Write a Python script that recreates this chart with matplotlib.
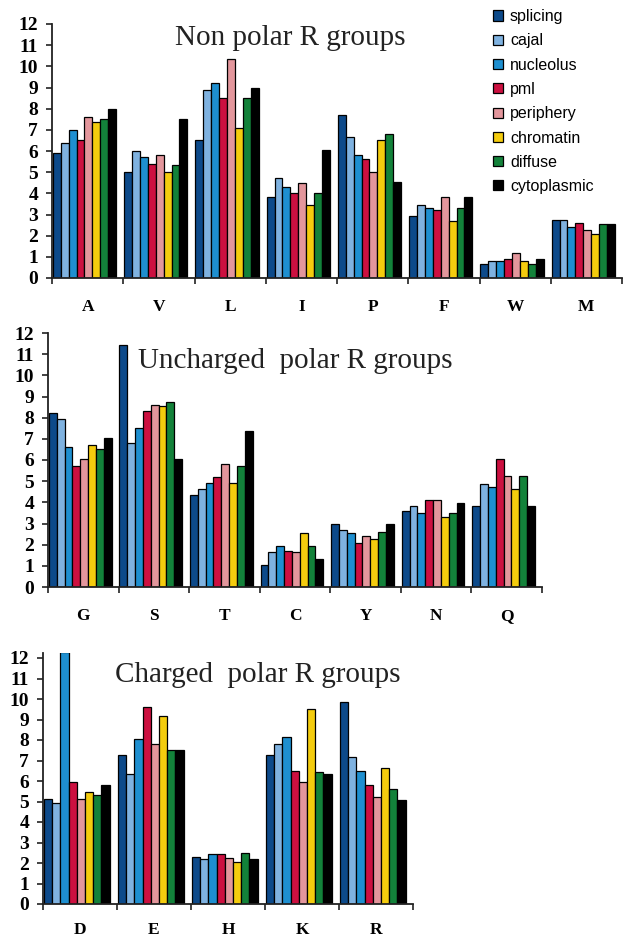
import matplotlib
matplotlib.use("Agg")
import matplotlib.pyplot as plt
import numpy as np

# ---------------- data ----------------
series = ["splicing", "cajal", "nucleolus", "pml", "periphery",
          "chromatin", "diffuse", "cytoplasmic"]
colors = ["#0d4a8a", "#7fb2e0", "#1e8fd0", "#cc1040", "#e3969c",
          "#f4cc0e", "#13823a", "#000000"]

nonpolar_cats = ["A", "V", "L", "I", "P", "F", "W", "M"]
nonpolar_vals = [
    [5.9, 6.4, 7.0, 6.5, 7.6, 7.35, 7.5, 8.0],    # A
    [5.0, 6.0, 5.7, 5.4, 5.8, 5.0, 5.35, 7.5],    # V
    [6.5, 8.9, 9.2, 8.5, 10.35, 7.1, 8.5, 9.0],   # L
    [3.83, 4.72, 4.3, 4.0, 4.5, 3.43, 4.0, 6.03], # I
    [7.68, 6.66, 5.8, 5.6, 5.0, 6.5, 6.8, 4.53],  # P
    [2.91, 3.43, 3.32, 3.23, 3.83, 2.7, 3.3, 3.83],  # F
    [0.68, 0.79, 0.79, 0.9, 1.2, 0.79, 0.68, 0.91],  # W
    [2.72, 2.72, 2.41, 2.61, 2.25, 2.09, 2.54, 2.54],  # M
]

uncharged_cats = ["G", "S", "T", "C", "Y", "N", "Q"]
uncharged_vals = [
    [8.21, 7.93, 6.63, 5.72, 6.03, 6.71, 6.52, 7.03],  # G
    [11.42, 6.79, 7.53, 8.33, 8.61, 8.53, 8.72, 6.03],  # S
    [4.34, 4.61, 4.9, 5.21, 5.8, 4.9, 5.72, 7.35],  # T
    [1.03, 1.63, 1.93, 1.69, 1.63, 2.53, 1.93, 1.31],  # C
    [3.0, 2.69, 2.53, 2.09, 2.42, 2.29, 2.61, 3.0],  # Y
    [3.6, 3.82, 3.48, 4.11, 4.11, 3.29, 3.51, 3.98],  # N
    [3.82, 4.87, 4.74, 6.03, 5.24, 4.61, 5.24, 3.82],  # Q
]

charged_cats = ["D", "E", "H", "K", "R"]
charged_vals = [
    [5.11, 4.92, 12.3, 5.93, 5.11, 5.44, 5.33, 5.81],  # D
    [7.25, 6.34, 8.05, 9.61, 7.8, 9.19, 7.49, 7.52],   # E
    [2.31, 2.21, 2.43, 2.43, 2.23, 2.05, 2.51, 2.21],  # H
    [7.25, 7.8, 8.14, 6.51, 5.93, 9.53, 6.43, 6.34],   # K
    [9.84, 7.15, 6.51, 5.81, 5.2, 6.63, 5.6, 5.05],    # R
]

yticks = list(range(0, 13))
titles = ["Non polar R groups", "Uncharged  polar R groups", "Charged  polar R groups"]

# ---------------- figure ----------------
W, H = 625, 941
fig = plt.figure(figsize=(W / 100, H / 100), dpi=100)
serif = "Liberation Serif"
sans = "Liberation Sans"


def px_axes(left, right, y0, y12, ytop_val=12.0):
    unit = (y0 - y12) / 12.0
    top_px = y0 - unit * ytop_val
    return fig.add_axes([left / W, (H - y0) / H, (right - left) / W,
                         (y0 - top_px) / H])


def draw_panel(ax, cats, vals, ytop, label_size, label_pad):
    n = len(cats)
    vals = np.array(vals)
    bw = 0.111
    off = 0.012
    handles = []
    for j in range(len(series)):
        x = np.arange(n) + off + (j + 0.5) * bw
        b = ax.bar(x, vals[:, j], width=bw, color=colors[j],
                   edgecolor="black", linewidth=0.9, label=series[j])
        handles.append(b)
    ax.set_xlim(0, n)
    ax.set_ylim(0, ytop)
    ax.set_yticks(yticks)
    ax.set_yticklabels([str(t) for t in yticks], fontfamily=serif,
                       fontweight="bold", fontsize=14)
    ax.set_xticks(np.arange(n + 1))
    ax.set_xticklabels([])
    ax.set_xticks(np.arange(n) + 0.5, minor=True)
    ax.set_xticklabels(cats, minor=True, fontfamily=serif,
                       fontweight="bold", fontsize=label_size)
    ax.tick_params(axis="x", which="major", direction="out", length=4,
                   width=1.2, color="#222222")
    ax.tick_params(axis="x", which="minor", length=0, pad=label_pad)
    ax.tick_params(axis="y", direction="out", length=4, width=1.2,
                   pad=6, color="#222222")
    for s in ["top", "right"]:
        ax.spines[s].set_visible(False)
    for s in ["left", "bottom"]:
        ax.spines[s].set_linewidth(1.3)
        ax.spines[s].set_color("#222222")
    ax.patch.set_alpha(0)
    return handles


ax1 = px_axes(52, 622, 278, 24)
h = draw_panel(ax1, nonpolar_cats, nonpolar_vals, 12, 12.5, 15)

ax2 = px_axes(48, 542, 587, 333)
draw_panel(ax2, uncharged_cats, uncharged_vals, 12, 12.5, 15)

ax3 = px_axes(43, 413, 904, 658, ytop_val=12.25)
draw_panel(ax3, charged_cats, charged_vals, 12.25, 12.5, 13)

# titles
fig.text(175 / W, 1 - 45 / H, titles[0], fontfamily=serif, fontsize=21,
         ha="left", va="baseline", color="#222222")
fig.text(138 / W, 1 - 368 / H, titles[1], fontfamily=serif, fontsize=21,
         ha="left", va="baseline", color="#222222")
fig.text(115 / W, 1 - 682 / H, titles[2], fontfamily=serif, fontsize=21,
         ha="left", va="baseline", color="#222222")

# legend
fig.legend(handles=h, labels=series, loc="upper left",
           bbox_to_anchor=(490 / W, 1 - 6 / H), frameon=False,
           prop={"family": sans, "size": 11.5}, handlelength=0.6,
           handleheight=0.6, handletextpad=0.45, labelspacing=0.58,
           borderpad=0.2, borderaxespad=0)

fig.savefig("out.png", dpi=100)
